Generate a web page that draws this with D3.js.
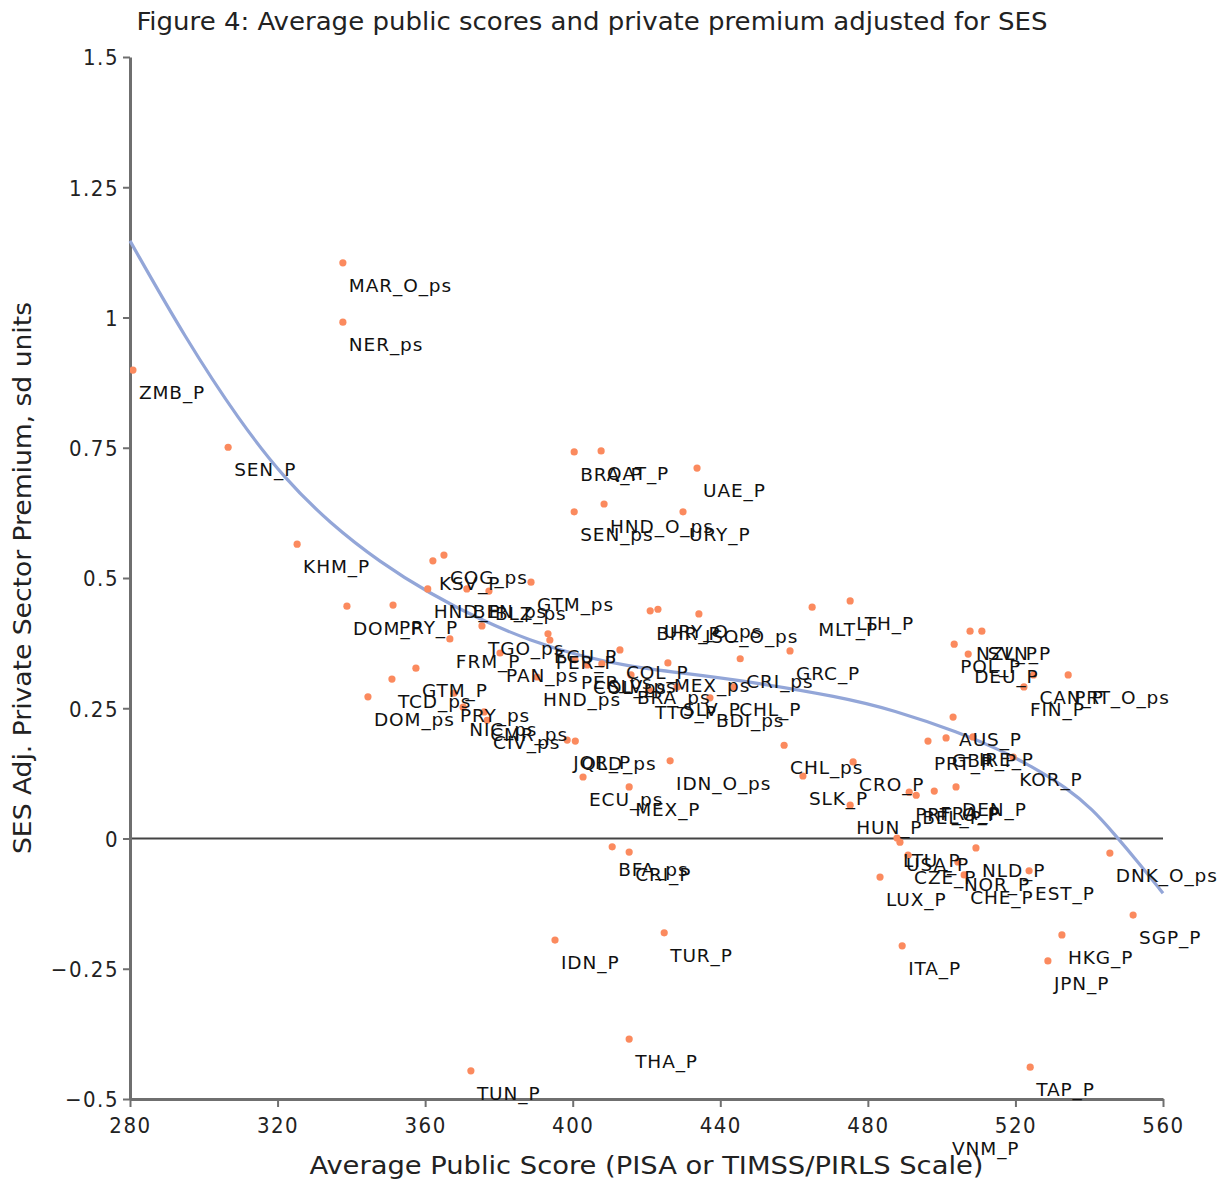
<!DOCTYPE html>
<html><head><meta charset="utf-8">
<script src="https://cdn.jsdelivr.net/npm/d3@7"></script>
<style>body{margin:0;background:#fff}</style>
</head><body>
<svg id="chart" width="1230" height="1182"></svg>
<script>
// Country / system codes, average public score and SES-adjusted private premium
const codes = [
  "ZMB_P","SEN_P","KHM_P","MAR_O_ps","NER_ps","DOM_P","PRY_P","DOM_ps","TCD_ps","GTM_P",
  "KSV_P","COG_ps","HND_P","BEN_ps","BLZ_ps","GTM_ps","TGO_ps","FRM_P","PAN_ps","ECU_P",
  "PER_P","HND_ps","PER_ps","COL_ps","SLV_ps","COL_P","BRA_ps","MEX_ps","SLV_P","TTO_P",
  "BDI_ps","CHL_P","CRI_ps","GRC_P","MLT_P","LTH_P","BHR_P","URY_O_ps","ISO_O_ps","BRA_P",
  "QAT_P","UAE_P","SEN_ps","HND_O_ps","URY_P","PRY_ps","NIC_ps","CMR_ps","CIV_ps","JOR_P",
  "QLD_ps","IDN_O_ps","ECU_ps","MEX_P","CHL_ps","SLK_P","CRO_P","HUN_P","PRT_O_P","BEL_P",
  "FRA_P","DEN_P","LTU_P","CZE_P","NLD_P","NOR_P","CHE_P","EST_P","LUX_P","USA_P",
  "NZL_P","SVN_P","POL_P","DEU_P","FIN_P","CAN_P","PRT_O_ps","AUS_P","PRT_P","GBR_P",
  "IRE_P","KOR_P","DNK_O_ps","SGP_P","HKG_P","JPN_P","TAP_P","VNM_P","THA_P","TUN_P",
  "IDN_P","TUR_P","ITA_P","BFA_ps","CRI_P"
];
const publicScore = [
  280.8,306.6,325.3,337.7,337.7,338.8,351.3,344.5,351.0,357.5,
  362.1,365.1,360.7,371.3,377.3,388.7,375.4,366.7,380.3,393.3,
  393.8,390.3,400.6,403.9,407.9,412.8,415.8,425.8,428.3,420.7,
  437.2,443.5,445.4,458.9,464.9,475.2,421.0,423.1,434.2,400.4,
  407.7,433.7,400.4,408.5,429.9,367.8,370.3,376.0,376.8,398.5,
  400.7,426.4,402.8,415.3,457.3,462.4,476.0,475.2,491.2,493.1,
  498.0,503.9,487.9,490.9,509.3,504.4,506.1,523.7,483.3,488.7,
  507.7,510.9,503.4,507.2,522.3,524.9,534.3,503.1,496.3,501.2,
  508.5,519.4,545.6,551.9,532.6,528.8,524.0,501.2,415.3,372.4,
  395.2,424.8,489.3,410.7,415.3
];
const premium = [
  0.899,0.751,0.565,1.105,0.991,0.446,0.448,0.272,0.306,0.327,
  0.533,0.544,0.479,0.479,0.475,0.492,0.408,0.383,0.356,0.393,
  0.381,0.310,0.343,0.333,0.335,0.362,0.314,0.337,0.291,0.285,
  0.270,0.291,0.345,0.360,0.444,0.456,0.437,0.440,0.431,0.742,
  0.744,0.711,0.627,0.642,0.627,0.279,0.252,0.243,0.227,0.189,
  0.187,0.149,0.118,0.099,0.179,0.120,0.147,0.064,0.089,0.083,
  0.091,0.099,0.001,-0.032,-0.018,-0.045,-0.070,-0.062,-0.074,-0.007,
  0.398,0.398,0.373,0.354,0.291,0.314,0.314,0.233,0.187,0.193,
  0.195,0.156,-0.028,-0.147,-0.185,-0.235,-0.439,-0.552,-0.385,-0.446,
  -0.195,-0.181,-0.206,-0.016,-0.026
];
// Fitted trend line, read along its length
const fitScore   = [280.0,295.0,309.8,322.0,334.2,347.8,361.3,374.9,388.4,402.0,415.5,429.1,447.2,472.4,486.8,505.0,515.8,524.0,534.0,541.0,546.4,553.8,560.0];
const fitPremium = [1.147,0.960,0.800,0.690,0.605,0.530,0.470,0.420,0.380,0.350,0.330,0.318,0.302,0.272,0.247,0.203,0.170,0.140,0.097,0.055,0.012,-0.050,-0.105];

const xTicks = [280,320,360,400,440,480,520,560];
const yTicks = [1.5,1.25,1,0.75,0.5,0.25,0,-0.25,-0.5];
const yTickLabels = ["1.5","1.25","1","0.75","0.5","0.25","0","\u22120.25","\u22120.5"];

const titleText = "Figure 4: Average public scores and private premium adjusted for SES";
const xTitle = "Average Public Score (PISA or TIMSS/PIRLS Scale)";
const yTitle = "SES Adj. Private Sector Premium, sd units";

const svg = d3.select("#chart");
const plotL = 130, plotR = 1163, plotT = 57, plotB = 1099;
const x = d3.scaleLinear().domain([280,560]).range([plotL,plotR]);
const y = d3.scaleLinear().domain([-0.5,1.5]).range([plotB,plotT]);

const titleFont = "'DejaVu Sans Condensed','DejaVu Sans',sans-serif";
const labelFont = "'DejaVu Sans',Verdana,sans-serif";

svg.append("defs").append("clipPath").attr("id","plotclip")
  .append("rect").attr("x",plotL).attr("y",plotT).attr("width",plotR-plotL+2).attr("height",plotB-plotT);

// Title
svg.append("text").attr("x",592).attr("y",30)
  .attr("text-anchor","middle").attr("font-family",titleFont).attr("font-size",25)
  .attr("textLength",911).attr("lengthAdjust","spacingAndGlyphs")
  .attr("fill","#222").text(titleText);

// Zero reference line
svg.append("line").attr("x1",plotL).attr("x2",plotR)
  .attr("y1",y(0)).attr("y2",y(0)).attr("stroke","#444").attr("stroke-width",2);

// Axes
const yAxis = svg.append("g").attr("transform",`translate(${plotL},0)`)
  .call(d3.axisLeft(y).tickValues(yTicks).tickFormat((d,i)=>yTickLabels[i]).tickSize(7).tickSizeOuter(0).tickPadding(4));
const xAxis = svg.append("g").attr("transform",`translate(0,${plotB})`)
  .call(d3.axisBottom(x).tickValues(xTicks).tickFormat(d3.format("d")).tickSize(8).tickSizeOuter(0).tickPadding(10));
[yAxis,xAxis].forEach(g=>{
  g.select(".domain").attr("stroke","#6f6f6f").attr("stroke-width",3);
  g.selectAll(".tick line").attr("stroke","#6f6f6f").attr("stroke-width",2);
  g.selectAll(".tick text").attr("font-family",titleFont).attr("font-size",22)
    .attr("letter-spacing","1.5px").attr("fill","#222");
});
yAxis.selectAll(".tick text").attr("dy","0.36em");

// Axis titles
svg.append("text").attr("x",(plotL+plotR)/2).attr("y",1174)
  .attr("text-anchor","middle").attr("font-family",titleFont).attr("font-size",24)
  .attr("textLength",674).attr("lengthAdjust","spacingAndGlyphs").attr("fill","#222").text(xTitle);
svg.append("text").attr("transform",`translate(31,${(plotT+plotB)/2}) rotate(-90)`)
  .attr("text-anchor","middle").attr("font-family",titleFont).attr("font-size",24)
  .attr("textLength",552).attr("lengthAdjust","spacingAndGlyphs").attr("fill","#222").text(yTitle);

// Trend line
const fit = fitScore.map((s,i)=>[s,fitPremium[i]]);
svg.append("path").datum(fit)
  .attr("d",d3.line().x(d=>x(d[0])).y(d=>y(d[1])).curve(d3.curveBasis))
  .attr("fill","none").attr("stroke","#93a6d8").attr("stroke-width",3.2);

// Points
const pts = codes.map((c,i)=>({code:c,sx:publicScore[i],py:premium[i]}));
svg.append("g").attr("clip-path","url(#plotclip)")
  .selectAll("circle").data(pts).join("circle")
  .attr("cx",d=>x(d.sx)).attr("cy",d=>y(d.py)).attr("r",3.6).attr("fill","#fb8a5e");

// Point labels
svg.append("g").selectAll("text").data(pts).join("text")
  .attr("x",d=>x(d.sx)+6).attr("y",d=>y(d.py)+29)
  .attr("font-family",labelFont).attr("font-size",18.5).attr("letter-spacing","0.9px").attr("fill","#111")
  .text(d=>d.code);
</script>
</body></html>
